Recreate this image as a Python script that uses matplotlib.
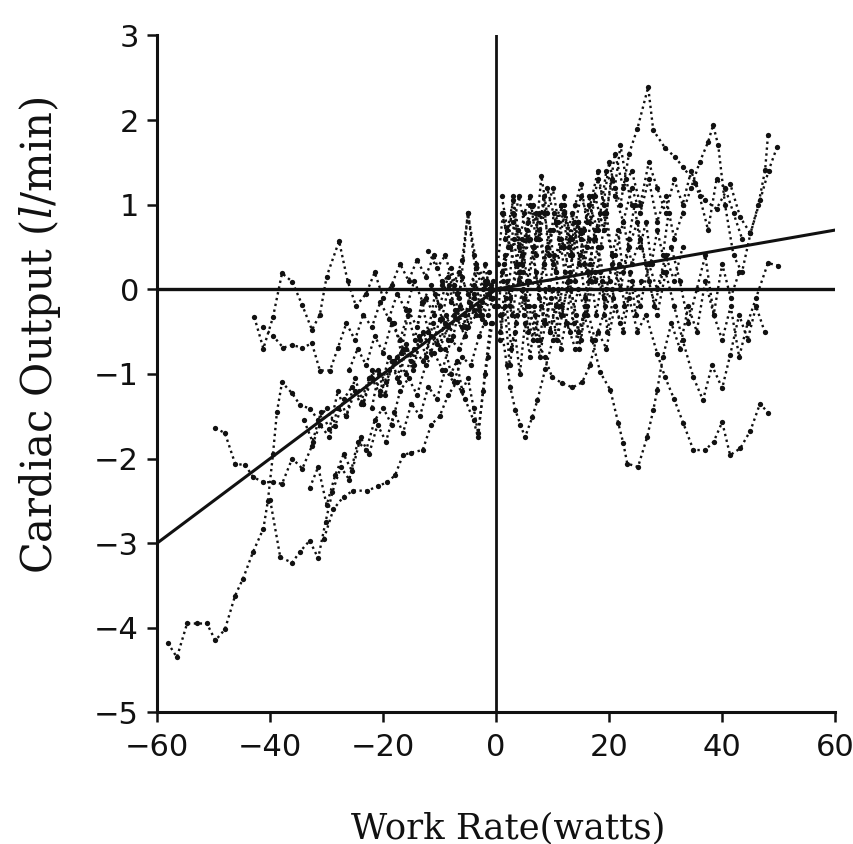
import matplotlib
matplotlib.use("Agg")
import matplotlib.pyplot as plt

# ---- Work rate change (watts) and cardiac output change (l/min) per subject ----
# Negative work-rate steps
n1_w = [-58.1, -56.5, -54.7, -52.9, -51.2, -49.7, -48.0, -46.2, -44.8, -43.0, -41.2, -40.4, -39.5,
        -38.8, -37.9, -36.1, -34.7, -32.9, -31.5, -30.0, -28.5, -27.0, -25.5, -24.0, -22.5, -21.0,
        -19.5, -18.0, -16.5, -15.0, -13.5, -12.0, -10.5, -9.0, -7.5, -6.0, -4.5, -3.0, -1.5]
n1_co = [-4.18, -4.35, -3.95, -3.95, -3.95, -4.15, -4.02, -3.62, -3.42, -3.10, -2.83, -2.50, -1.95,
         -1.45, -1.10, -1.23, -1.37, -1.41, -1.55, -1.40, -1.62, -1.30, -1.15, -1.35, -1.05, -0.95,
         -1.10, -0.85, -0.70, -0.85, -0.60, -0.50, -0.65, -0.40, -0.30, -0.45, -0.20, -0.25, -0.05]

n2_w = [-49.7, -48.0, -46.2, -44.4, -43.0, -41.2, -39.5, -37.9, -36.1, -34.3, -32.6, -31.2, -29.5,
        -28.0, -26.5, -25.0, -23.5, -22.0, -20.5, -19.0, -17.5, -16.0, -14.5, -13.0, -11.5, -10.0,
        -8.5, -7.0, -5.5, -4.0, -2.5, -1.0]
n2_co = [-1.64, -1.70, -2.06, -2.08, -2.22, -2.28, -2.28, -2.30, -2.00, -2.12, -1.85, -1.60, -1.75,
         -1.40, -1.50, -1.20, -1.35, -1.05, -1.25, -0.95, -0.80, -1.00, -0.70, -0.85, -0.55, -0.70,
         -0.45, -0.35, -0.55, -0.25, -0.35, -0.10]

n3_w = [-42.8, -41.2, -39.5, -37.9, -36.1, -34.3, -32.6, -31.2, -30.0, -27.8, -26.3, -24.8, -23.0,
        -21.5, -20.0, -18.5, -17.0, -15.5, -14.0, -12.5, -11.0, -9.5, -8.0, -6.5, -5.0, -3.5, -2.0, -0.8]
n3_co = [-0.33, -0.70, -0.33, 0.19, 0.09, -0.19, -0.48, -0.30, 0.15, 0.57, 0.10, -0.20, -0.05,
         0.20, -0.10, 0.05, 0.30, 0.10, 0.35, 0.15, 0.40, 0.05, 0.25, -0.10, 0.90, 0.30, 0.10, 0.00]

n4_w = [-41.2, -39.5, -37.7, -36.1, -34.3, -32.6, -31.2, -29.4, -28.0, -26.5, -25.0, -23.5, -22.0,
        -20.5, -19.0, -17.5, -16.0, -14.5, -13.0, -11.5, -10.0, -8.5, -7.0, -5.5, -4.0, -2.5, -1.0]
n4_co = [-0.45, -0.55, -0.69, -0.66, -0.69, -0.64, -0.96, -0.96, -0.69, -0.40, -0.60, -0.30, -0.45,
         -0.15, -0.35, -0.05, -0.25, 0.10, -0.15, 0.05, -0.20, 0.15, -0.05, -0.30, 0.05, -0.15, 0.05]

n5_w = [-40.0, -38.2, -36.1, -34.7, -33.0, -31.5, -30.2, -29.0, -27.5, -26.0, -24.5, -23.0, -21.5,
        -20.0, -18.5, -17.0, -15.5, -14.0, -12.5, -11.0, -9.5, -8.0, -6.5, -5.0, -3.5, -2.0, -0.5]
n5_co = [-2.49, -3.17, -3.23, -3.10, -2.97, -3.18, -2.75, -2.40, -2.10, -2.25, -1.80, -1.90, -1.55,
         -1.40, -1.60, -1.20, -1.05, -1.25, -0.90, -0.75, -0.95, -0.60, -0.70, -0.45, -0.30, -0.40, -0.10]

n6_w = [-30.5, -28.8, -27.0, -25.3, -22.8, -21.0, -19.3, -17.9, -16.5, -15.0, -13.0, -11.5, -10.0,
        -8.5, -7.0, -5.5, -4.0, -3.2, -2.0, -1.0]
n6_co = [-2.95, -2.60, -2.45, -2.38, -2.38, -2.33, -2.28, -2.20, -1.96, -1.93, -1.90, -1.60, -1.50,
         -1.25, -1.10, -1.30, -1.55, -1.75, -1.00, -0.40]

n7_w = [-34.0, -32.5, -31.0, -29.5, -28.0, -26.5, -25.0, -23.5, -22.0, -20.5, -19.0, -17.5, -16.0,
        -14.5, -13.0, -11.5, -10.0, -8.5, -7.0, -5.5, -4.0, -2.5, -1.0]
n7_co = [-1.55, -1.80, -1.45, -1.65, -1.20, -1.50, -1.05, -1.35, -0.95, -1.20, -0.80, -1.05, -0.65,
         -0.90, -0.50, -0.75, -0.35, -0.60, -0.25, -0.45, -0.10, -0.30, 0.00]

n8_w = [-26.0, -24.5, -23.0, -21.5, -20.0, -18.5, -17.0, -15.5, -14.0, -12.5, -11.0, -9.5, -8.0,
        -6.5, -5.0, -3.5, -2.0, -0.5]
n8_co = [-0.95, -0.70, -0.90, -0.55, -0.75, -0.40, -0.60, -0.25, -0.45, -0.10, -0.30, 0.10, -0.15,
         0.20, -0.05, 0.25, 0.05, 0.10]

n9_w = [-33.0, -31.5, -30.0, -28.5, -27.0, -25.5, -24.0, -22.5, -21.0, -19.5, -18.0, -16.5, -15.0,
        -13.5, -12.0, -10.5, -9.0, -7.5, -6.0, -4.5, -3.0, -1.5]
n9_co = [-2.35, -2.10, -2.55, -2.20, -1.95, -2.15, -1.75, -1.95, -1.60, -1.80, -1.45, -1.70, -1.35,
         -1.50, -1.15, -1.30, -0.95, -1.10, -0.80, -0.90, -0.55, -0.30]

n10_w = [-12.0, -10.5, -9.0, -7.5, -6.0, -5.0, -4.0, -3.0, -2.0, -1.0]
n10_co = [0.45, 0.25, 0.40, 0.05, 0.35, 0.90, 0.40, -0.20, 0.30, -0.10]

n11_w = [-9.0, -8.0, -7.0, -6.0, -5.0, -4.0, -3.2, -2.3, -1.5, -0.7]
n11_co = [-0.70, -1.00, -0.85, -1.20, -1.05, -1.40, -1.70, -1.20, -0.80, -0.40]

n12_w = [-22.0, -20.8, -19.6, -18.4, -17.2, -16.0, -14.8, -13.6, -12.4, -11.2, -10.0, -8.8, -7.6,
         -6.4, -5.2, -4.0, -2.8, -1.6, -0.4]
n12_co = [-1.40, -1.00, -1.25, -0.85, -1.10, -0.70, -0.95, -0.55, -0.80, -0.40, -0.70, -0.30, -0.55,
          -0.20, -0.45, -0.05, -0.30, 0.10, -0.20]

n13_w = [-18.0, -16.8, -15.6, -14.4, -13.2, -12.0, -10.8, -9.6, -8.4, -7.2, -6.0, -4.8, -3.6,
         -2.4, -1.2]
n13_co = [-0.40, -0.75, -0.30, -0.60, -0.15, -0.50, -0.05, -0.35, 0.05, -0.25, 0.15, -0.15, 0.25,
          0.00, 0.20]

# Positive work-rate steps
p1_w = [1.0, 2.5, 4.0, 5.5, 7.0, 8.5, 10.0, 11.5, 13.0, 14.5, 16.0, 17.5, 19.0, 20.5, 22.0, 23.5,
        25.0, 26.9, 27.8, 29.9, 31.7, 33.1, 35.2, 37.0, 39.0, 41.4, 43.2, 45.0, 46.4, 47.6, 48.1]
p1_co = [0.20, 0.50, 0.10, 0.70, 0.40, 0.90, 0.30, 0.60, 0.20, 0.80, 0.50, 1.10, 0.70, 1.30, 1.00,
         1.60, 1.90, 2.39, 1.88, 1.67, 1.56, 1.44, 1.26, 1.05, 0.95, 1.25, 0.85, 0.66, 1.00, 1.41, 1.82]

p2_w = [1.5, 3.0, 4.5, 6.0, 7.5, 9.0, 10.5, 12.0, 13.5, 15.0, 16.5, 18.0, 19.5, 21.0, 22.5, 24.0,
        25.5, 27.0, 28.5, 30.0, 31.5, 33.0, 34.5, 36.0, 37.5, 38.4, 39.3, 40.5, 42.0, 43.5, 45.0,
        46.7, 48.2, 49.7]
p2_co = [0.60, 0.90, 0.40, 1.00, 0.70, 1.20, 0.80, 0.50, 0.90, 0.60, 1.00, 0.70, 1.40, 1.10, 0.80,
         1.20, 0.90, 1.30, 0.80, 1.10, 0.60, 0.90, 1.20, 1.50, 1.74, 1.94, 1.70, 1.00, 0.40, 0.20,
         0.66, 1.05, 1.40, 1.68]

p3_w = [0.8, 2.0, 3.5, 5.0, 6.5, 8.0, 9.5, 11.0, 12.5, 14.0, 15.5, 17.0, 18.4, 20.2, 21.6, 22.5,
        23.2, 25.1, 26.7, 27.8, 28.5, 29.5, 31.0, 32.5, 34.0, 35.5, 37.0, 38.5, 40.0, 41.5, 43.0]
p3_co = [-0.30, 0.10, -0.40, -0.10, -0.60, -0.20, -0.50, 0.00, -0.40, -0.70, -0.30, -0.60, -0.98,
         -1.19, -1.58, -1.82, -2.06, -2.10, -1.75, -1.43, -1.19, -0.80, -0.40, -0.70, -0.20, -0.50,
         0.10, -0.30, 0.30, -0.10, 0.20]

p4_w = [2.5, 4.0, 5.5, 7.0, 8.5, 10.0, 11.5, 13.0, 14.5, 16.0, 17.5, 19.0, 20.5, 22.0, 23.5, 25.0,
        26.5, 28.5, 29.9, 31.5, 33.1, 34.9, 37.0, 38.5, 40.0, 41.4, 43.2, 45.0, 46.7, 48.1]
p4_co = [-0.10, 0.30, -0.20, 0.20, -0.40, 0.00, -0.30, 0.10, -0.50, -0.20, -0.60, -0.30, 0.00,
         -0.40, -0.10, -0.50, -0.30, -0.76, -1.04, -1.30, -1.58, -1.90, -1.90, -1.80, -1.57, -1.96,
         -1.88, -1.67, -1.35, -1.46]

p5_w = [0.6, 1.9, 2.5, 3.4, 4.3, 5.1, 6.4, 7.3, 8.7, 10.0, 11.5, 13.0, 14.5, 16.0, 17.5, 19.0,
        20.5, 22.0]
p5_co = [-0.30, -0.90, -1.16, -1.43, -1.60, -1.75, -1.51, -1.31, -0.94, -0.60, -0.20, -0.50, 0.00,
         -0.30, 0.20, -0.10, 0.30, 0.00]

p6_w = [1.2, 2.8, 4.2, 5.8, 7.2, 8.6, 9.9, 11.7, 13.5, 15.2, 16.6, 18.0, 19.5, 21.0, 22.5, 24.0,
        25.5, 27.0, 28.5, 30.0, 31.5, 33.0]
p6_co = [0.10, -0.30, 0.20, -0.20, -0.60, -0.80, -1.04, -1.11, -1.16, -1.10, -0.90, -0.50, -0.70,
         -0.20, -0.50, 0.10, -0.20, 0.30, 0.00, 0.40, 0.10, 0.50]

p7_w = [1.0, 2.5, 4.0, 5.5, 7.0, 8.5, 10.0, 11.5, 13.0, 14.5, 16.0, 17.5, 19.0, 20.5, 22.0, 23.5,
        25.0, 26.5, 28.0, 29.5, 31.0, 32.5, 34.0, 35.5, 37.0, 38.5, 40.0, 41.5, 43.0, 44.5, 46.0,
        48.1, 49.9]
p7_co = [0.90, 0.50, 1.10, 0.60, 0.90, 0.30, 0.70, 1.00, 0.40, 0.80, 0.20, 0.60, 0.90, 0.40, 0.00,
         0.50, 0.80, 0.30, -0.20, 0.20, 0.50, 0.10, -0.40, 0.00, 0.40, -0.30, -0.60, -0.20, -0.80,
         -0.40, -0.10, 0.31, 0.28]

p8_w = [3.0, 4.5, 6.0, 7.5, 9.0, 10.5, 12.0, 13.5, 15.0, 16.5, 18.0, 19.5, 21.0, 22.5, 24.0, 25.5,
        27.0, 28.5, 30.0, 31.5, 33.0, 34.9, 36.6, 38.2, 40.0, 41.4, 43.0, 44.5, 46.0, 47.5]
p8_co = [0.80, 0.30, 0.60, 0.00, 0.50, 0.20, 0.90, 0.40, 0.70, 0.10, 0.50, 0.00, 0.40, 0.80, 0.30,
         0.60, 0.10, -0.30, 0.20, -0.20, -0.60, -1.04, -1.31, -0.90, -1.17, -0.78, -0.30, -0.60,
         -0.20, -0.50]

p9_w = [1.0, 2.0, 3.0, 4.0, 5.0, 6.0, 7.0, 8.0, 9.0, 10.0, 11.0, 12.0, 13.0, 14.0, 15.0, 16.0,
        17.0, 18.0, 19.0, 20.0, 21.0, 22.0, 23.0, 24.0]
p9_co = [1.10, 0.70, 1.05, 0.50, 0.90, 1.10, 0.60, 1.34, 0.90, 1.20, 0.80, 1.10, 0.60, 1.00, 1.25,
         0.80, 1.10, 1.40, 1.00, 1.50, 1.20, 1.70, 1.30, 1.00]

p10_w = [0.5, 1.5, 2.5, 3.5, 4.5, 5.5, 6.5, 7.5, 8.5, 9.5, 10.5, 11.5, 12.5, 13.5, 14.5, 15.5,
         16.5, 17.5, 18.5, 19.5, 20.5, 21.5, 22.5, 23.5, 24.5, 25.5, 26.5, 27.5, 28.5, 29.5, 30.5]
p10_co = [0.00, 0.40, -0.20, 0.30, 0.60, 0.10, 0.50, -0.10, 0.30, 0.70, 0.20, 0.50, 0.00, 0.40,
          0.80, 0.30, 0.60, 0.10, 0.50, 0.90, 0.40, 0.70, 0.20, 0.60, 1.00, 0.50, 0.80, 0.30, 0.70,
          0.40, 0.90]

p11_w = [0.7, 1.7, 2.7, 3.7, 4.7, 5.7, 6.7, 7.7, 8.7, 9.7, 10.7, 11.7, 12.7, 13.7, 14.7, 15.7,
         16.7, 17.7, 18.7, 19.7, 20.7, 21.7, 22.7, 23.7, 24.7, 25.7]
p11_co = [-0.50, -0.10, -0.70, -0.30, 0.00, -0.50, -0.20, -0.80, -0.40, -0.10, -0.60, -0.30, 0.10,
          -0.40, -0.70, -0.20, 0.20, -0.30, 0.10, -0.50, -0.10, 0.30, -0.20, 0.20, -0.30, 0.10]

p12_w = [12.0, 13.5, 15.0, 16.5, 18.0, 19.5, 21.0, 22.5, 24.0, 25.5, 27.0, 28.5, 30.0, 31.5, 33.0,
         34.5, 36.0, 37.5, 39.0, 40.5, 42.0, 43.5]
p12_co = [0.90, 0.60, 1.10, 0.80, 1.30, 0.90, 1.60, 1.20, 1.40, 1.00, 1.50, 1.20, 0.90, 1.30, 1.00,
          1.40, 1.10, 0.70, 1.30, 1.20, 0.90, 0.60]

p13_w = [0.3, 1.2, 2.1, 3.0, 3.9, 4.8, 5.7, 6.6, 7.5, 8.4, 9.3, 10.2, 11.1, 12.0, 12.9, 13.8,
         14.7, 15.6, 16.5, 17.4, 18.3]
p13_co = [0.30, 0.90, 0.50, 1.10, 0.70, 0.20, 0.80, 1.00, 0.60, 1.10, 0.40, 0.90, 0.60, 1.00, 0.50,
          0.80, 0.30, 0.70, 1.10, 0.60, 0.90]

p14_w = [0.4, 1.3, 2.2, 3.1, 4.0, 4.9, 5.8, 6.7, 7.6, 8.5, 9.4, 10.3, 11.2, 12.1, 13.0, 13.9,
         14.8, 15.7, 16.6, 17.5, 18.4, 19.3, 20.2]
p14_co = [-0.20, 0.30, 0.00, 0.60, 0.20, -0.30, 0.10, 0.50, 0.90, 0.30, 0.00, 0.40, -0.20, 0.20,
          0.60, 0.10, 0.40, -0.10, 0.30, 0.70, 0.20, -0.20, 0.10]

p15_w = [0.6, 1.5, 2.4, 3.3, 4.2, 5.1, 6.0, 6.9, 7.8, 8.7, 9.6, 10.5, 11.4, 12.3, 13.2, 14.1,
         15.0, 15.9, 16.8]
p15_co = [-0.60, -0.20, -0.90, -0.50, -1.00, -0.40, -0.80, -0.30, -0.60, 0.00, -0.50, -0.20, -0.70,
          -0.40, 0.00, -0.30, -0.60, -0.20, 0.10]

# Regression lines (negative and positive work-rate limbs)
fit_w = [-60.0, 0.0, 60.0]
fit_co = [-3.0, 0.0, 0.70]

subjects = [
    (n1_w, n1_co), (n2_w, n2_co), (n3_w, n3_co), (n4_w, n4_co), (n5_w, n5_co), (n6_w, n6_co),
    (n7_w, n7_co), (n8_w, n8_co), (n9_w, n9_co), (n10_w, n10_co), (n11_w, n11_co),
    (n12_w, n12_co), (n13_w, n13_co),
    (p1_w, p1_co), (p2_w, p2_co), (p3_w, p3_co), (p4_w, p4_co), (p5_w, p5_co), (p6_w, p6_co),
    (p7_w, p7_co), (p8_w, p8_co), (p9_w, p9_co), (p10_w, p10_co), (p11_w, p11_co),
    (p12_w, p12_co), (p13_w, p13_co), (p14_w, p14_co), (p15_w, p15_co),
]

plt.rcParams["mathtext.fontset"] = "dejavuserif"

fig = plt.figure(figsize=(8.54, 8.44), dpi=100)
ax = fig.add_axes([0.184, 0.156, 0.794, 0.802])

ink = "#111111"
for w, co in subjects:
    ax.plot(w, co, linestyle=(0, (1.0, 1.5)), linewidth=1.7, color=ink,
            marker="o", markersize=3.8, markeredgewidth=0, markerfacecolor=ink, zorder=2)

ax.plot(fit_w, fit_co, color=ink, linewidth=2.2, zorder=3)
ax.axhline(0, color=ink, linewidth=2.4, zorder=3)
ax.axvline(0, color=ink, linewidth=2.0, zorder=3)

ax.set_xlim(-60, 60)
ax.set_ylim(-5, 3)
ax.set_xticks(range(-60, 61, 20))
ax.set_yticks(range(-5, 4))
ax.set_xticklabels(["\u221260", "\u221240", "\u221220", "0", "20", "40", "60"])
ax.set_yticklabels(["\u22125", "\u22124", "\u22123", "\u22122", "\u22121", "0", "1", "2", "3"])

for side in ("top", "right"):
    ax.spines[side].set_visible(False)
for side in ("left", "bottom"):
    ax.spines[side].set_linewidth(2.2)
    ax.spines[side].set_color(ink)

ax.tick_params(axis="both", direction="out", length=7, width=1.8, colors=ink, labelsize=22)
ax.tick_params(axis="x", pad=8)
ax.tick_params(axis="y", pad=6)

ax.set_xlabel("Work Rate(watts)", family="DejaVu Serif", fontsize=25.5, color=ink)
ax.set_ylabel("Cardiac Output ($\\mathit{l}$/min)", family="DejaVu Serif", fontsize=30, color=ink)
ax.xaxis.set_label_coords(0.518, -0.171)
ax.yaxis.set_label_coords(-0.173, 0.557)
ax.xaxis.label.set_verticalalignment("center")
ax.yaxis.label.set_verticalalignment("center")

fig.savefig("out.png", dpi=100)
